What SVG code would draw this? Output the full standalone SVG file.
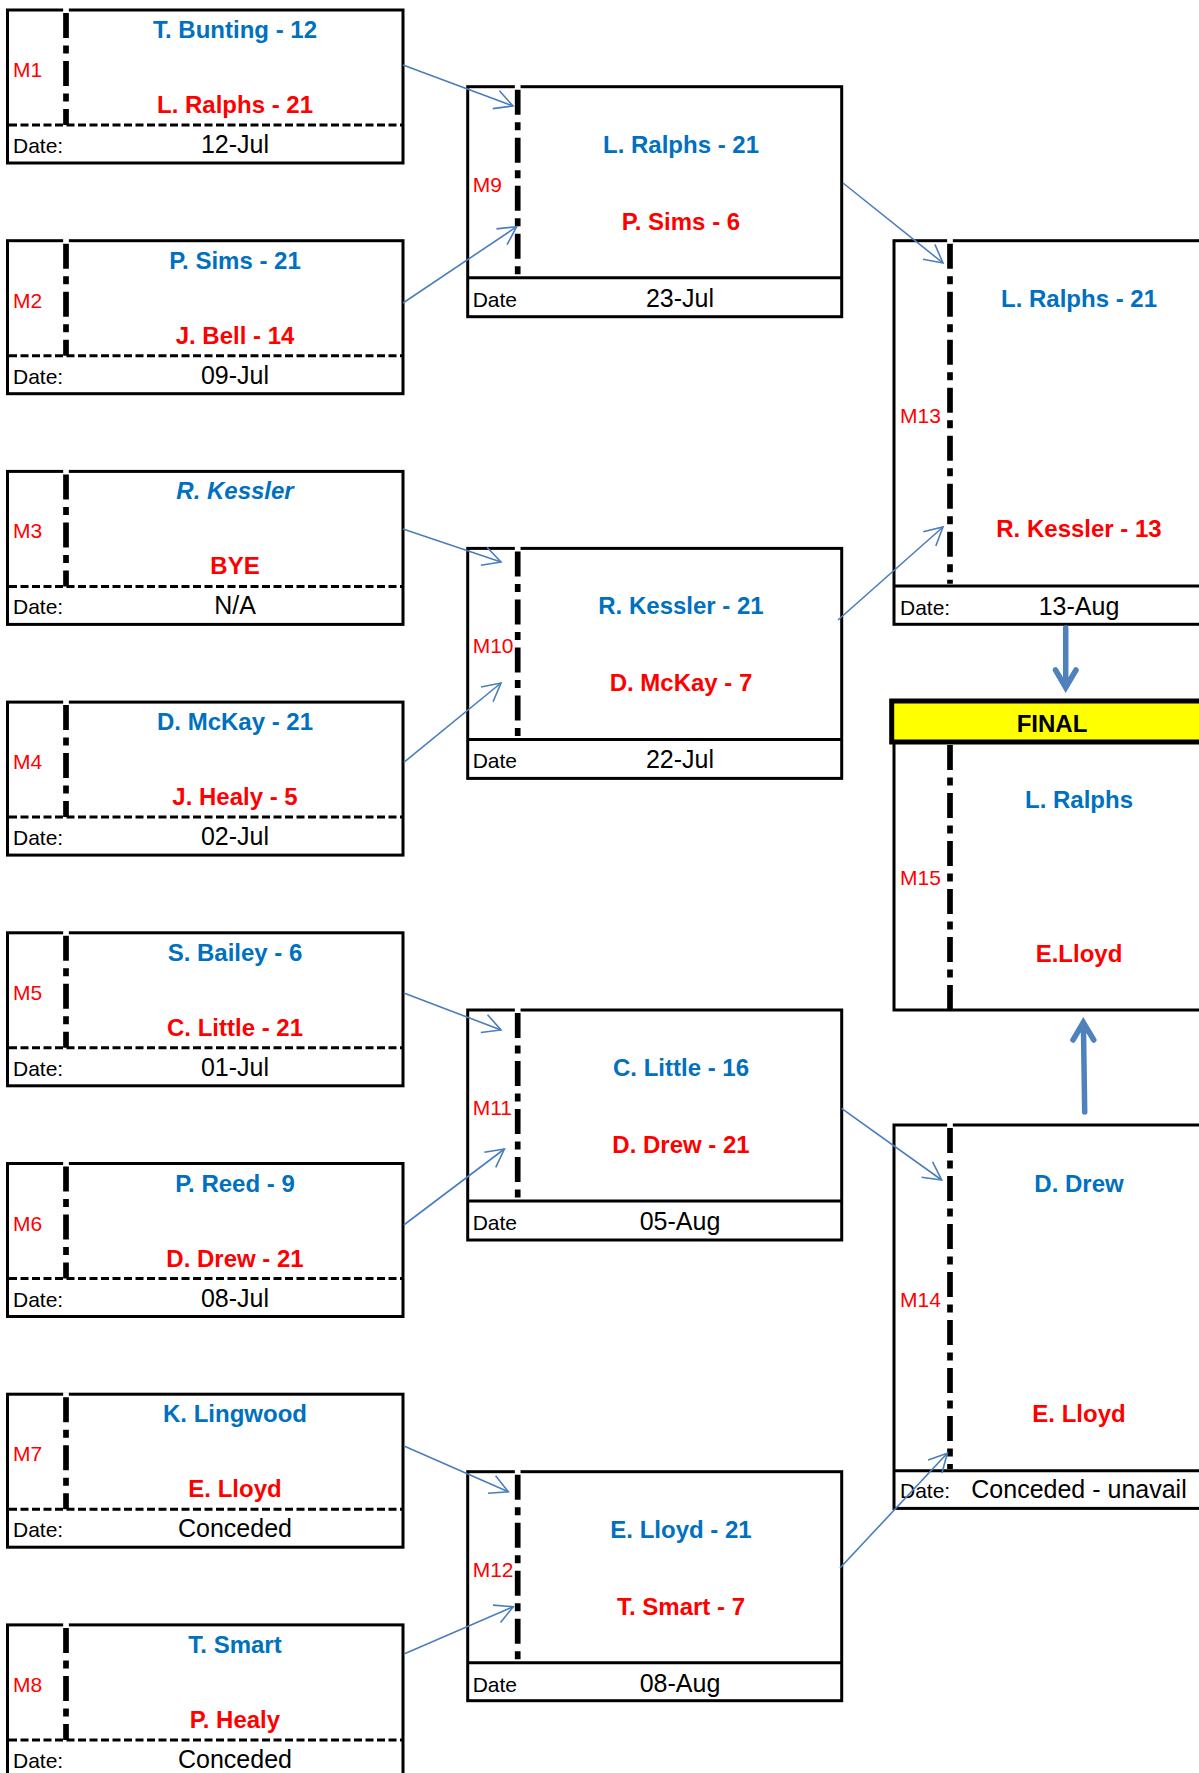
<svg xmlns="http://www.w3.org/2000/svg" width="1199" height="1773" viewBox="0 0 1199 1773">
<style>
.box{fill:#fff;stroke:#000;stroke-width:3}
.sepd{stroke:#000;stroke-width:3;stroke-dasharray:8 3.5}
.sep{stroke:#000;stroke-width:3}
.vd{stroke:#000;stroke-width:5.7;stroke-dasharray:25 7.5 8 7.5}
.notch{stroke:#fff;stroke-width:5.7}
text{font-family:'Liberation Sans',Arial,sans-serif}
.b{font-weight:bold;font-size:24px;fill:#0070C0;text-anchor:middle}
.r{font-weight:bold;font-size:24px;fill:#FF0000;text-anchor:middle}
.m{font-size:21px;fill:#FF0000}
.d{font-size:21px;fill:#000}
.v{font-size:25px;fill:#000;text-anchor:middle}
.conn{stroke:#4A7EBB;stroke-width:1.6;fill:none;marker-end:url(#ah)}
.big{stroke:#4F81BD;stroke-width:5.5;fill:none;stroke-linecap:round}
</style>
<defs>
<marker id="ah" markerUnits="userSpaceOnUse" viewBox="-21 -12 23 24" refX="0" refY="0" markerWidth="23" markerHeight="24" orient="auto" overflow="visible">
<path d="M-18,-9.5 L0,0 L-18,9.5" fill="none" stroke="#4A7EBB" stroke-width="1.6"/>
</marker>
</defs>
<rect width="1199" height="1773" fill="#fff"/>

<g id="M1" transform="translate(0,10)">
<rect class="box" x="7.5" y="0" width="395.5" height="153"/>
<line class="sepd" x1="9" y1="115" x2="402" y2="115"/>
<line class="notch" x1="66" y1="-2" x2="66" y2="3"/>
<line class="vd" x1="66" y1="3" x2="66" y2="115"/>
<text class="b" x="235" y="28">T. Bunting - 12</text>
<text class="r" x="235" y="103">L. Ralphs - 21</text>
<text class="m" x="13" y="67">M1</text>
<text class="d" x="13" y="143">Date:</text>
<text class="v" x="235" y="143">12-Jul</text>
</g>

<g id="M2" transform="translate(0,240.7)">
<rect class="box" x="7.5" y="0" width="395.5" height="153"/>
<line class="sepd" x1="9" y1="115" x2="402" y2="115"/>
<line class="notch" x1="66" y1="-2" x2="66" y2="3"/>
<line class="vd" x1="66" y1="3" x2="66" y2="115"/>
<text class="b" x="235" y="28">P. Sims - 21</text>
<text class="r" x="235" y="103">J. Bell - 14</text>
<text class="m" x="13" y="67">M2</text>
<text class="d" x="13" y="143">Date:</text>
<text class="v" x="235" y="143">09-Jul</text>
</g>

<g id="M3" transform="translate(0,471.4)">
<rect class="box" x="7.5" y="0" width="395.5" height="153"/>
<line class="sepd" x1="9" y1="115" x2="402" y2="115"/>
<line class="notch" x1="66" y1="-2" x2="66" y2="3"/>
<line class="vd" x1="66" y1="3" x2="66" y2="115"/>
<text class="b" x="235" y="28" font-style="italic">R. Kessler</text>
<text class="r" x="235" y="103">BYE</text>
<text class="m" x="13" y="67">M3</text>
<text class="d" x="13" y="143">Date:</text>
<text class="v" x="235" y="143">N/A</text>
</g>

<g id="M4" transform="translate(0,702.1)">
<rect class="box" x="7.5" y="0" width="395.5" height="153"/>
<line class="sepd" x1="9" y1="115" x2="402" y2="115"/>
<line class="notch" x1="66" y1="-2" x2="66" y2="3"/>
<line class="vd" x1="66" y1="3" x2="66" y2="115"/>
<text class="b" x="235" y="28">D. McKay - 21</text>
<text class="r" x="235" y="103">J. Healy - 5</text>
<text class="m" x="13" y="67">M4</text>
<text class="d" x="13" y="143">Date:</text>
<text class="v" x="235" y="143">02-Jul</text>
</g>

<g id="M5" transform="translate(0,932.8)">
<rect class="box" x="7.5" y="0" width="395.5" height="153"/>
<line class="sepd" x1="9" y1="115" x2="402" y2="115"/>
<line class="notch" x1="66" y1="-2" x2="66" y2="3"/>
<line class="vd" x1="66" y1="3" x2="66" y2="115"/>
<text class="b" x="235" y="28">S. Bailey - 6</text>
<text class="r" x="235" y="103">C. Little - 21</text>
<text class="m" x="13" y="67">M5</text>
<text class="d" x="13" y="143">Date:</text>
<text class="v" x="235" y="143">01-Jul</text>
</g>

<g id="M6" transform="translate(0,1163.5)">
<rect class="box" x="7.5" y="0" width="395.5" height="153"/>
<line class="sepd" x1="9" y1="115" x2="402" y2="115"/>
<line class="notch" x1="66" y1="-2" x2="66" y2="3"/>
<line class="vd" x1="66" y1="3" x2="66" y2="115"/>
<text class="b" x="235" y="28">P. Reed - 9</text>
<text class="r" x="235" y="103">D. Drew - 21</text>
<text class="m" x="13" y="67">M6</text>
<text class="d" x="13" y="143">Date:</text>
<text class="v" x="235" y="143">08-Jul</text>
</g>

<g id="M7" transform="translate(0,1394.2)">
<rect class="box" x="7.5" y="0" width="395.5" height="153"/>
<line class="sepd" x1="9" y1="115" x2="402" y2="115"/>
<line class="notch" x1="66" y1="-2" x2="66" y2="3"/>
<line class="vd" x1="66" y1="3" x2="66" y2="115"/>
<text class="b" x="235" y="28">K. Lingwood</text>
<text class="r" x="235" y="103">E. Lloyd</text>
<text class="m" x="13" y="67">M7</text>
<text class="d" x="13" y="143">Date:</text>
<text class="v" x="235" y="143">Conceded</text>
</g>

<g id="M8" transform="translate(0,1624.9)">
<rect class="box" x="7.5" y="0" width="395.5" height="153"/>
<line class="sepd" x1="9" y1="115" x2="402" y2="115"/>
<line class="notch" x1="66" y1="-2" x2="66" y2="3"/>
<line class="vd" x1="66" y1="3" x2="66" y2="115"/>
<text class="b" x="235" y="28">T. Smart</text>
<text class="r" x="235" y="103">P. Healy</text>
<text class="m" x="13" y="67">M8</text>
<text class="d" x="13" y="143">Date:</text>
<text class="v" x="235" y="143">Conceded</text>
</g>

<g id="M9" transform="translate(0,86.7)">
<rect class="box" x="467.7" y="0" width="374" height="230"/>
<line class="sep" x1="467.7" y1="191" x2="841.7" y2="191"/>
<line class="notch" x1="517.7" y1="-2" x2="517.7" y2="3"/>
<line class="vd" x1="517.7" y1="3" x2="517.7" y2="189"/>
<text class="b" x="681" y="66">L. Ralphs - 21</text>
<text class="r" x="681" y="143">P. Sims - 6</text>
<text class="m" x="472.7" y="105">M9</text>
<text class="d" x="472.7" y="220">Date</text>
<text class="v" x="680" y="220">23-Jul</text>
</g>

<g id="M10" transform="translate(0,548.4)">
<rect class="box" x="467.7" y="0" width="374" height="230"/>
<line class="sep" x1="467.7" y1="191" x2="841.7" y2="191"/>
<line class="notch" x1="517.7" y1="-2" x2="517.7" y2="3"/>
<line class="vd" x1="517.7" y1="3" x2="517.7" y2="189"/>
<text class="b" x="681" y="66">R. Kessler - 21</text>
<text class="r" x="681" y="143">D. McKay - 7</text>
<text class="m" x="472.7" y="105">M10</text>
<text class="d" x="472.7" y="220">Date</text>
<text class="v" x="680" y="220">22-Jul</text>
</g>

<g id="M11" transform="translate(0,1010)">
<rect class="box" x="467.7" y="0" width="374" height="230"/>
<line class="sep" x1="467.7" y1="191" x2="841.7" y2="191"/>
<line class="notch" x1="517.7" y1="-2" x2="517.7" y2="3"/>
<line class="vd" x1="517.7" y1="3" x2="517.7" y2="189"/>
<text class="b" x="681" y="66">C. Little - 16</text>
<text class="r" x="681" y="143">D. Drew - 21</text>
<text class="m" x="472.7" y="105">M11</text>
<text class="d" x="472.7" y="220">Date</text>
<text class="v" x="680" y="220">05-Aug</text>
</g>

<g id="M12" transform="translate(0,1471.7)">
<rect class="box" x="467.7" y="0" width="374" height="229"/>
<line class="sep" x1="467.7" y1="191" x2="841.7" y2="191"/>
<line class="notch" x1="517.7" y1="-2" x2="517.7" y2="3"/>
<line class="vd" x1="517.7" y1="3" x2="517.7" y2="189"/>
<text class="b" x="681" y="66">E. Lloyd - 21</text>
<text class="r" x="681" y="143">T. Smart - 7</text>
<text class="m" x="472.7" y="105">M12</text>
<text class="d" x="472.7" y="220">Date</text>
<text class="v" x="680" y="220">08-Aug</text>
</g>

<g id="M13" transform="translate(0,240.7)">
<rect class="box" x="894" y="0" width="330" height="383.6"/>
<line class="sep" x1="894" y1="345.3" x2="1224" y2="345.3"/>
<line class="notch" x1="950" y1="-2" x2="950" y2="3"/>
<line class="vd" x1="950" y1="3" x2="950" y2="343"/>
<text class="b" x="1079" y="66.3">L. Ralphs - 21</text>
<text class="r" x="1079" y="296">R. Kessler - 13</text>
<text class="m" x="900" y="182">M13</text>
<text class="d" x="900" y="374.3">Date:</text>
<text class="v" x="1079" y="374.3">13-Aug</text>
</g>

<g id="M15">
<rect class="box" x="894" y="742" width="330" height="268"/>
<rect x="891.7" y="701" width="340" height="41" fill="#FFFF00" stroke="#000" stroke-width="5"/>
<line class="vd" x1="950" y1="745" x2="950" y2="1009"/>
<text x="1052" y="731.7" font-size="24" font-weight="bold" fill="#000" text-anchor="middle">FINAL</text>
<text class="b" x="1079" y="808">L. Ralphs</text>
<text class="r" x="1079" y="961.7">E.Lloyd</text>
<text class="m" x="900" y="885">M15</text>
</g>

<g id="M14" transform="translate(0,1125)">
<rect class="box" x="894" y="0" width="330" height="383.4"/>
<line class="sep" x1="894" y1="345.7" x2="1224" y2="345.7"/>
<line class="notch" x1="950" y1="-2" x2="950" y2="3"/>
<line class="vd" x1="950" y1="3" x2="950" y2="344"/>
<text class="b" x="1079" y="66.7">D. Drew</text>
<text class="r" x="1079" y="296.7">E. Lloyd</text>
<text class="m" x="900" y="182">M14</text>
<text class="d" x="900" y="373">Date:</text>
<text class="v" x="1079" y="373">Conceded - unavail</text>
</g>

<g id="connectors">
<line class="conn" x1="403" y1="65" x2="513" y2="106"/>
<line class="conn" x1="403" y1="303" x2="516.7" y2="226.7"/>
<line class="conn" x1="403" y1="529" x2="501" y2="562"/>
<line class="conn" x1="403.8" y1="762.3" x2="501" y2="683"/>
<line class="conn" x1="403.8" y1="993" x2="501" y2="1030"/>
<line class="conn" x1="403.8" y1="1225" x2="504.4" y2="1149"/>
<line class="conn" x1="404" y1="1446" x2="508.3" y2="1491.7"/>
<line class="conn" x1="404" y1="1654" x2="513.3" y2="1606.7"/>
<line class="conn" x1="843" y1="183" x2="943" y2="263"/>
<line class="conn" x1="838" y1="620" x2="943" y2="527"/>
<line class="conn" x1="841.5" y1="1108.4" x2="941.7" y2="1180"/>
<line class="conn" x1="840" y1="1568" x2="947.3" y2="1453.3"/>
<path class="big" d="M1065.7,628 V686 M1055.5,670 L1065.7,687.5 L1076,670"/>
<path class="big" d="M1084.7,1112 L1083.4,1024 M1073,1040 L1083.3,1022.5 L1093.8,1040"/>
</g>
</svg>
